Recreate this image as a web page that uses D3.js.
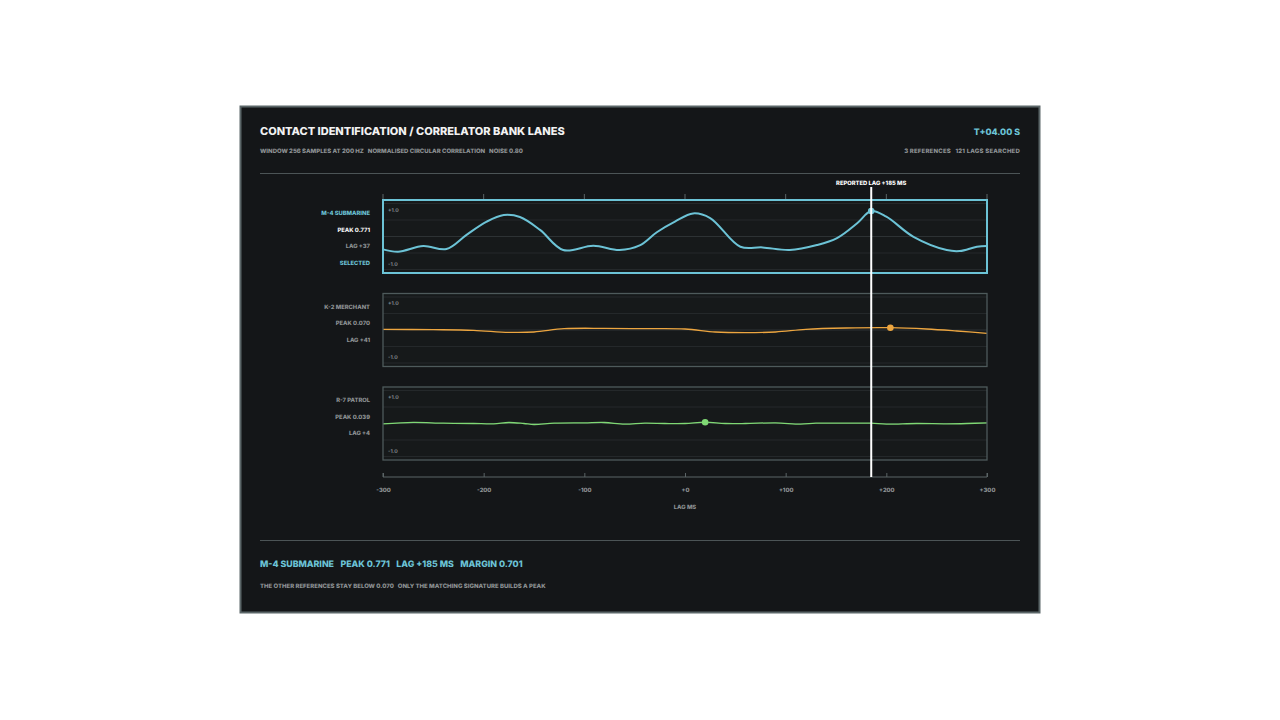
<!DOCTYPE html>
<html>
<head>
<meta charset="utf-8">
<script src="https://cdn.jsdelivr.net/npm/d3@7"></script>
<style>
  html, body { margin: 0; padding: 0; background: #ffffff; }
  svg { display: block; font-family: Inter, "Noto Sans", sans-serif; }
</style>
</head>
<body>
<div id="chart"></div>
<script>
// lag axis ticks
var lagTicks = [-300, -200, -100, 0, 100, 200, 300];
var gridValues = [1, 0.5, 0, -0.5, -1];

// lane text
var laneNames = ["M-4 SUBMARINE", "K-2 MERCHANT", "R-7 PATROL"];
var lanePeakLabels = ["PEAK 0.771", "PEAK 0.070", "PEAK 0.039"];
var laneLagLabels = ["LAG +37", "LAG +41", "LAG +4"];
var laneColors = ["#6cc3d6", "#eda640", "#7fd874"];

// correlation curves
var m4Lags = [-300, -285, -260, -237, -217, -197, -180, -164, -144, -121, -91, -65, -45, -28, -10, 8, 25, 55, 77, 104, 131, 151, 171, 185, 200, 227, 260, 273, 290, 300];
var m4Values = [-0.39, -0.46, -0.29, -0.38, 0.05, 0.45, 0.65, 0.59, 0.20, -0.41, -0.28, -0.41, -0.27, 0.13, 0.45, 0.70, 0.56, -0.31, -0.33, -0.41, -0.26, -0.05, 0.40, 0.771, 0.60, -0.01, -0.41, -0.44, -0.31, -0.29];

var k2Lags = [-300, -250, -210, -175, -150, -120, -80, -40, 0, 30, 60, 90, 120, 160, 204, 240, 270, 300];
var k2Values = [0.02, 0.01, -0.01, -0.07, -0.06, 0.04, 0.05, 0.04, 0.03, -0.06, -0.08, -0.06, 0.02, 0.06, 0.070, 0.03, -0.03, -0.10];

var r7Lags = [-300, -270, -240, -210, -190, -175, -160, -150, -130, -100, -80, -60, -40, -20, 0, 20, 40, 60, 90, 115, 130, 160, 185, 200, 230, 260, 280, 300];
var r7Values = [-0.01, 0.035, 0.01, 0.0, -0.01, 0.03, 0.0, -0.03, 0.01, 0.02, 0.03, -0.02, 0.01, 0.0, 0.0, 0.039, 0.0, 0.0, 0.02, -0.02, 0.01, 0.01, 0.01, -0.02, 0.0, -0.01, 0.0, 0.02];

// peak markers: lag, value
var peakLags = [185, 204, 20];
var peakValues = [0.771, 0.070, 0.039];
var reportedLag = 185;

var laneLags = [m4Lags, k2Lags, r7Lags];
var laneValues = [m4Values, k2Values, r7Values];

var W = 1280, H = 720;
var grey = "#8e9294";

var svg = d3.select("#chart").append("svg")
    .attr("width", W)
    .attr("height", H)
    .attr("text-rendering", "geometricPrecision");

// dark panel
svg.append("rect")
    .attr("x", 240.5).attr("y", 106.5)
    .attr("width", 799).attr("height", 506)
    .attr("fill", "#141618")
    .attr("stroke", "#5b6668")
    .attr("stroke-width", 2);

// header
svg.append("text")
    .attr("x", 260).attr("y", 135)
    .attr("fill", "#f2f2f2")
    .attr("font-size", 11).attr("font-weight", 800)
    .text("CONTACT IDENTIFICATION / CORRELATOR BANK LANES");

svg.append("text")
    .attr("x", 260).attr("y", 153)
    .attr("fill", grey)
    .attr("font-size", 6).attr("font-weight", 800)
    .attr("xml:space", "preserve")
    .text("WINDOW 256 SAMPLES AT 200 HZ   NORMALISED CIRCULAR CORRELATION   NOISE 0.80");

svg.append("text")
    .attr("x", 1020).attr("y", 135)
    .attr("text-anchor", "end")
    .attr("fill", laneColors[0])
    .attr("font-size", 8.8).attr("font-weight", 800)
    .text("T+04.00 S");

svg.append("text")
    .attr("x", 1020).attr("y", 153)
    .attr("text-anchor", "end")
    .attr("fill", grey)
    .attr("font-size", 6).attr("font-weight", 800)
    .attr("letter-spacing", 0.2)
    .attr("xml:space", "preserve")
    .text("3 REFERENCES   121 LAGS SEARCHED");

// dividers
svg.append("line").attr("x1", 260).attr("x2", 1020).attr("y1", 173.5).attr("y2", 173.5)
    .attr("stroke", "#4c5456").attr("stroke-width", 1.2);
svg.append("line").attr("x1", 260).attr("x2", 1020).attr("y1", 540.5).attr("y2", 540.5)
    .attr("stroke", "#4c5456").attr("stroke-width", 1.2);

// scales
var x = d3.scaleLinear().domain([-300, 300]).range([383, 987]);
var laneTop = [200, 293.5, 387];
var laneH = 73;

var fmtLag = function(d) { return (d >= 0 ? "+" : "") + d; };

// top tick marks above the first lane
svg.append("g").selectAll("line")
    .data(lagTicks)
    .join("line")
    .attr("x1", function(d) { return x(d); })
    .attr("x2", function(d) { return x(d); })
    .attr("y1", 194).attr("y2", 199)
    .attr("stroke", "#5b6466").attr("stroke-width", 1);

// draw each lane
function drawLane(i) {
    var top = laneTop[i];
    var y = d3.scaleLinear().domain([-1, 1]).range([top + laneH - 3.5, top + 3.5]);
    var g = svg.append("g");
    var selected = (i === 0);

    g.append("rect")
        .attr("x", x(-300)).attr("y", top)
        .attr("width", x(300) - x(-300)).attr("height", laneH)
        .attr("fill", "#16191a");

    // grid
    g.selectAll("line.grid")
        .data(gridValues)
        .join("line")
        .attr("class", "grid")
        .attr("x1", x(-300)).attr("x2", x(300))
        .attr("y1", function(d) { return y(d); })
        .attr("y2", function(d) { return y(d); })
        .attr("stroke", function(d) { return d === 0 ? "#2d3234" : "#24282a"; })
        .attr("stroke-width", 1);

    g.append("text")
        .attr("x", x(-300) + 5).attr("y", y(1) + 8)
        .attr("fill", "#80878a").attr("font-size", 5.2).attr("font-weight", 700)
        .text("+1.0");
    g.append("text")
        .attr("x", x(-300) + 5).attr("y", y(-1) - 4)
        .attr("fill", "#80878a").attr("font-size", 5.2).attr("font-weight", 700)
        .text("-1.0");

    // curve
    var pts = laneLags[i].map(function(l, k) { return [l, laneValues[i][k]]; });
    var line = d3.line()
        .x(function(d) { return x(d[0]); })
        .y(function(d) { return y(d[1]); })
        .curve(d3.curveCatmullRom.alpha(0.5));
    g.append("path")
        .attr("d", line(pts))
        .attr("fill", "none")
        .attr("stroke", laneColors[i])
        .attr("stroke-width", selected ? 2 : 1.3)
        .attr("stroke-linejoin", "round");

    g.append("circle")
        .attr("cx", x(peakLags[i])).attr("cy", y(peakValues[i]))
        .attr("r", 3.3)
        .attr("fill", laneColors[i]);

    // frame
    g.append("rect")
        .attr("x", x(-300)).attr("y", top)
        .attr("width", x(300) - x(-300)).attr("height", laneH)
        .attr("fill", "none")
        .attr("stroke", selected ? laneColors[0] : "#4e5a5b")
        .attr("stroke-width", selected ? 2 : 1.3);

    // side labels
    var lx = 370;
    var rows = [laneNames[i], lanePeakLabels[i], laneLagLabels[i]];
    var colors = [selected ? laneColors[0] : grey, selected ? "#f2f2f2" : grey, grey];
    if (selected) { rows.push("SELECTED"); colors.push(laneColors[0]); }
    rows.forEach(function(r, k) {
        g.append("text")
            .attr("x", lx).attr("y", top + 15 + k * 16.7)
            .attr("text-anchor", "end")
            .attr("fill", colors[k])
            .attr("font-size", 5.8).attr("font-weight", 800)
            .text(r);
    });
}

for (var i = 0; i < laneNames.length; i += 1) {
    drawLane(i);
}

// bottom axis, ticks pointing up
var axis = svg.append("g")
    .attr("transform", "translate(0,477)")
    .call(d3.axisBottom(x).tickValues(lagTicks).tickFormat(fmtLag).tickSize(-4).tickPadding(10.5));
axis.select(".domain").attr("stroke", "#5b6466").attr("d", "M" + x(-300) + ",-4V0H" + x(300) + "V-4");
axis.selectAll(".tick line").attr("stroke", "#5b6466");
axis.selectAll(".tick text")
    .attr("fill", grey).attr("font-size", 5.8).attr("font-weight", 800)
    .attr("font-family", "Inter, 'Noto Sans', sans-serif");

svg.append("text")
    .attr("x", x(0)).attr("y", 509)
    .attr("text-anchor", "middle")
    .attr("fill", grey).attr("font-size", 5.8).attr("font-weight", 800)
    .text("LAG MS");

// reported lag marker
svg.append("line")
    .attr("x1", x(reportedLag)).attr("x2", x(reportedLag))
    .attr("y1", 187).attr("y2", 477)
    .attr("stroke", "#ffffff").attr("stroke-width", 2);
svg.append("text")
    .attr("x", x(reportedLag)).attr("y", 185)
    .attr("text-anchor", "middle")
    .attr("fill", "#ffffff").attr("font-size", 5.8).attr("font-weight", 800)
    .text("REPORTED LAG +" + reportedLag + " MS");

// footer summary
var summary = ["M-4 SUBMARINE", "PEAK 0.771", "LAG +185 MS", "MARGIN 0.701"];
var ft = svg.append("text")
    .attr("x", 260).attr("y", 567)
    .attr("fill", laneColors[0]).attr("font-size", 8.8).attr("font-weight", 800);
summary.forEach(function(s, k) {
    ft.append("tspan").attr("dx", k === 0 ? 0 : 6.5).text(s);
});

svg.append("text")
    .attr("x", 260).attr("y", 588)
    .attr("fill", grey).attr("font-size", 6).attr("font-weight", 800)
    .attr("xml:space", "preserve")
    .text("THE OTHER REFERENCES STAY BELOW 0.070   ONLY THE MATCHING SIGNATURE BUILDS A PEAK");
</script>
</body>
</html>
